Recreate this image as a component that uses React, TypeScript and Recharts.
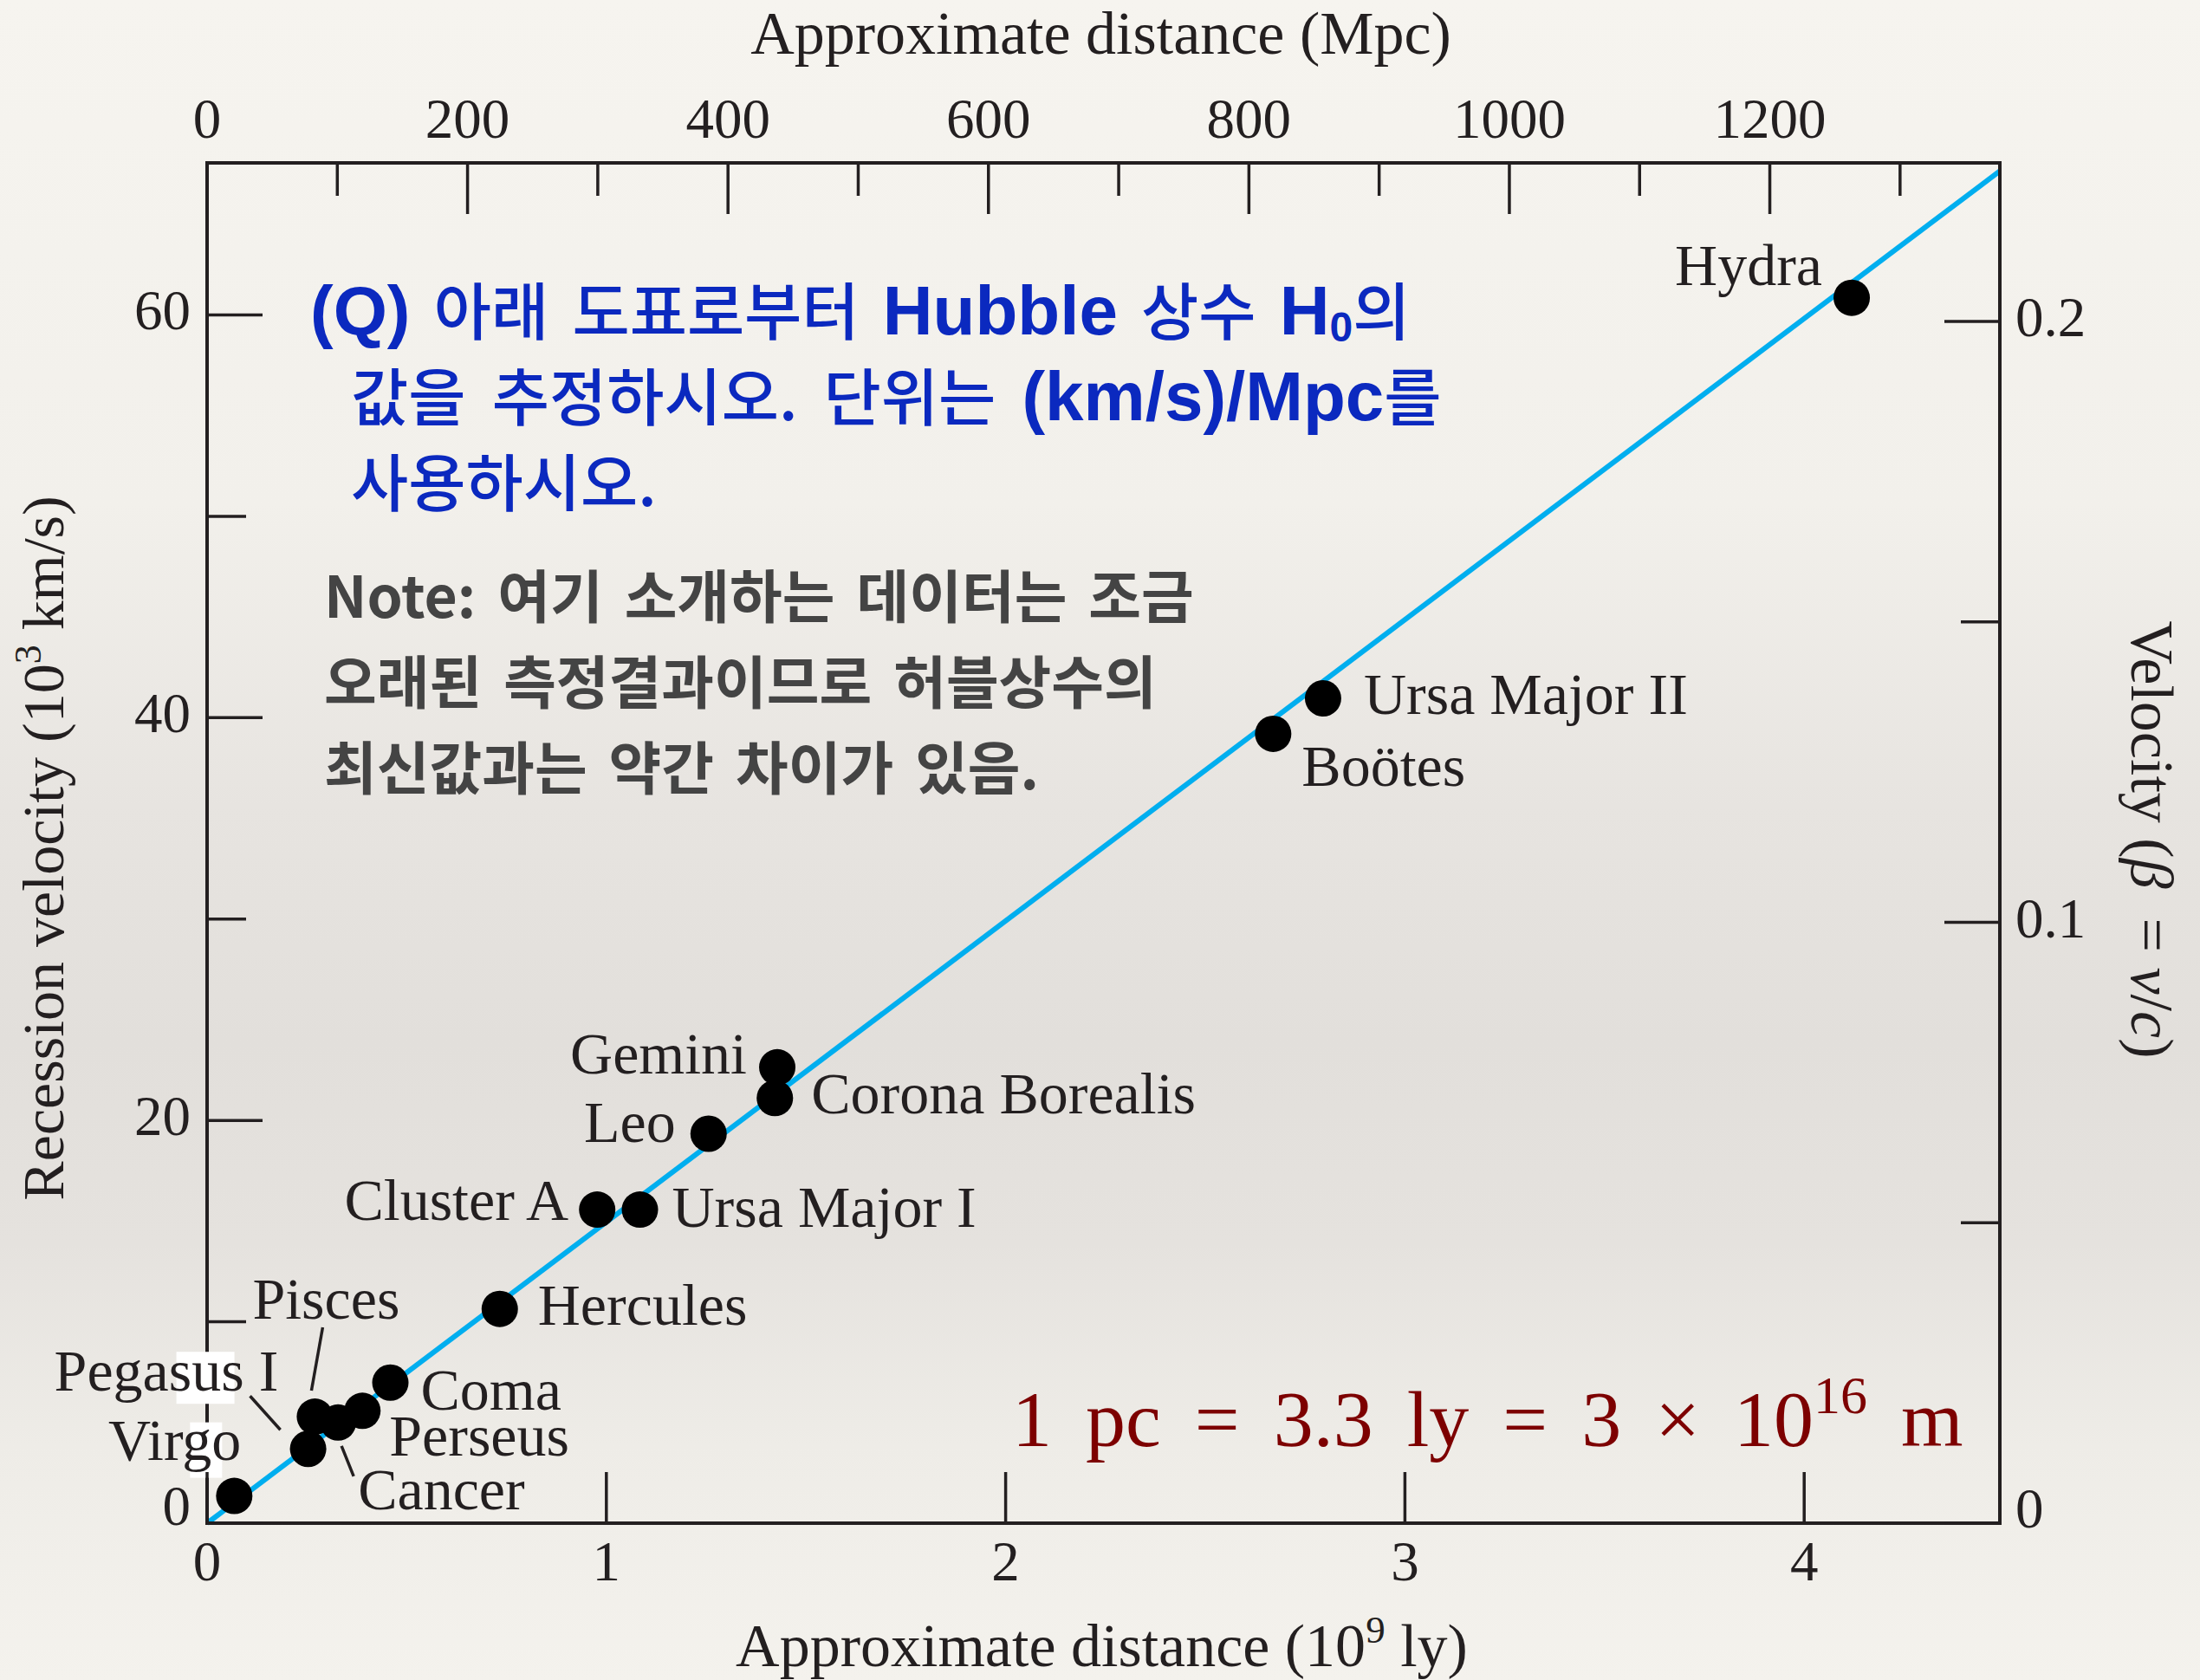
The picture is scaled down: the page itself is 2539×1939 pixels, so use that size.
import React from "react";
import { ComposedChart, Line, Scatter, XAxis, YAxis } from "recharts";

// galaxy clusters: distance in 10^9 ly, recession velocity in 10^3 km/s
const clusterNames = [
  "Virgo",
  "Pegasus I",
  "Pisces",
  "Cancer",
  "Perseus",
  "Coma",
  "Hercules",
  "Cluster A",
  "Ursa Major I",
  "Leo",
  "Corona Borealis",
  "Gemini",
  "Boötes",
  "Ursa Major II",
  "Hydra",
];
const distanceGly = [0.068, 0.253, 0.27, 0.328, 0.389, 0.459, 0.733, 0.977, 1.084, 1.256, 1.422, 1.428, 2.67, 2.795, 4.119];
const velocityKms = [1.35, 3.69, 5.29, 5.0, 5.58, 6.98, 10.64, 15.57, 15.57, 19.34, 21.11, 22.64, 39.2, 40.96, 60.85];

// straight-line fit across the panel
const fitDistance = [0, 4.49];
const fitVelocity = [0, 67.15];

const glyTicks = [0, 1, 2, 3, 4];
const mpcTicks = [0, 100, 200, 300, 400, 500, 600, 700, 800, 900, 1000, 1100, 1200, 1300];
const velocityTicks = [0, 10, 20, 30, 40, 50, 60];
const betaTicks = [0, 0.05, 0.1, 0.15, 0.2];

const glyDomain = [0, 4.49];
const velocityDomain = [0, 67.55];
const betaDomain = [0, 0.2264];

// 1 pc = 3.2616 ly, so 1 Mpc = 3.2616e-3 Gly
const LY_PER_PC = 3.2616;

const clusters = clusterNames.map((name, i) => ({ name, d: distanceGly[i], v: velocityKms[i] }));
const fitLine = fitDistance.map((d, i) => ({ d, v: fitVelocity[i] }));
// the top scale shares the distance axis; its ticks sit at whole hundreds of Mpc
const mpcTicksInGly = mpcTicks.map((m) => (m * LY_PER_PC) / 1000);

const W = 2539;
const H = 1939;
const PLOT = { left: 239, right: 2308, top: 188, bottom: 1758 };

const INK = "#231f20";
const SERIF = "'Liberation Serif', 'Times New Roman', serif";
const SANS = "'Liberation Sans', Arial, sans-serif";
const KR = "'Noto Sans CJK KR', sans-serif";
const QUESTION_BLUE = "#0b29bf";
const NOTE_GREY = "#444444";
const UNIT_RED = "#7d0000";

// where each cluster name sits relative to its dot
type Tag = {
  anchor: "start" | "end";
  dx: number;
  dy: number;
  leader?: [number, number, number, number];
  mask?: [number, number, number, number];
};
const tagLayout: Record<string, Tag> = {
  Virgo: { anchor: "end", dx: 8, dy: -42, mask: [-59, -43, 37, 64] },
  "Pegasus I": { anchor: "start", dx: -293, dy: -67, mask: [141, -45, 67, 60], leader: [-67, -61, -32, -22] },
  Pisces: { anchor: "start", dx: -72, dy: -113, leader: [9, -103, -4, -30] },
  Cancer: { anchor: "start", dx: 23, dy: 100, leader: [18, 62, 4, 27] },
  Perseus: { anchor: "start", dx: 31, dy: 52 },
  Coma: { anchor: "start", dx: 35, dy: 31 },
  Hercules: { anchor: "start", dx: 44, dy: 18 },
  "Cluster A": { anchor: "end", dx: -33, dy: 12 },
  "Ursa Major I": { anchor: "start", dx: 37, dy: 20 },
  Leo: { anchor: "end", dx: -38, dy: 10 },
  "Corona Borealis": { anchor: "start", dx: 42, dy: 18 },
  Gemini: { anchor: "end", dx: -35, dy: 7 },
  "Boötes": { anchor: "start", dx: 33, dy: 60 },
  "Ursa Major II": { anchor: "start", dx: 47, dy: 18 },
  Hydra: { anchor: "end", dx: -34, dy: -15 },
};

const axisLine = { stroke: INK, strokeWidth: 4, strokeLinecap: "square" as const };
const tickText = { fontFamily: SERIF, fontSize: 65, fill: INK };

function BottomTick({ x, y, payload }: any) {
  return (
    <g>
      <line x1={x} y1={y} x2={x} y2={y - 59} stroke={INK} strokeWidth={3.5} />
      <text x={x} y={y + 66} textAnchor="middle" {...tickText}>
        {payload.value}
      </text>
    </g>
  );
}

function TopTick({ x, y, payload }: any) {
  const mpc = Math.round((payload.value * 1000) / LY_PER_PC);
  const major = mpc % 200 === 0;
  return (
    <g>
      <line x1={x} y1={y} x2={x} y2={y + (major ? 59 : 38)} stroke={INK} strokeWidth={3.5} />
      {major && (
        <text x={x} y={y - 29} textAnchor="middle" {...tickText}>
          {mpc}
        </text>
      )}
    </g>
  );
}

function LeftTick({ x, y, payload }: any) {
  const major = payload.value % 20 === 0;
  return (
    <g>
      <line x1={x} y1={y} x2={x + (major ? 64 : 45)} y2={y} stroke={INK} strokeWidth={3.5} />
      {major && (
        <text x={x - 19} y={payload.value === 0 ? y + 2 : y + 17} textAnchor="end" {...tickText}>
          {payload.value}
        </text>
      )}
    </g>
  );
}

function RightTick({ x, y, payload }: any) {
  const v = payload.value;
  const major = Math.abs(v * 10 - Math.round(v * 10)) < 1e-9;
  return (
    <g>
      <line x1={x} y1={y} x2={x - (major ? 64 : 45)} y2={y} stroke={INK} strokeWidth={3.5} />
      {major && (
        <text x={x + 18} y={v === 0 ? y + 5 : y + 17} textAnchor="start" {...tickText}>
          {v === 0 ? "0" : v.toFixed(1)}
        </text>
      )}
    </g>
  );
}

const titleText = { fontFamily: SERIF, fontSize: 70, fill: INK };

function TopTitle({ viewBox }: any) {
  const vb = viewBox ?? { x: PLOT.left, y: 0, width: PLOT.right - PLOT.left, height: PLOT.top };
  return (
    <text x={vb.x + vb.width / 2 - 3} y={vb.y + 62} textAnchor="middle" {...titleText}>
      Approximate distance (Mpc)
    </text>
  );
}

function BottomTitle({ viewBox }: any) {
  const vb = viewBox ?? { x: PLOT.left, y: PLOT.bottom, width: PLOT.right - PLOT.left, height: H - PLOT.bottom };
  return (
    <text x={vb.x + vb.width / 2 - 2} y={vb.y + 165} textAnchor="middle" {...titleText}>
      Approximate distance (10
      <tspan dy={-27} fontSize={45}>9</tspan>
      <tspan dy={27}> ly)</tspan>
    </text>
  );
}

function LeftTitle({ viewBox }: any) {
  const vb = viewBox ?? { x: 0, y: PLOT.top, width: PLOT.left, height: PLOT.bottom - PLOT.top };
  const cx = vb.x + 73;
  const cy = vb.y + vb.height / 2 + 6;
  return (
    <text transform={`translate(${cx},${cy}) rotate(-90)`} textAnchor="middle" {...titleText} fontSize={68}>
      Recession velocity (10
      <tspan dy={-26} fontSize={44}>3</tspan>
      <tspan dy={26}> km/s)</tspan>
    </text>
  );
}

function RightTitle({ viewBox }: any) {
  const vb = viewBox ?? { x: PLOT.right, y: PLOT.top, width: W - PLOT.right, height: PLOT.bottom - PLOT.top };
  const cx = vb.x + 152;
  const cy = vb.y + vb.height / 2 - 4;
  return (
    <text transform={`translate(${cx},${cy}) rotate(90)`} textAnchor="middle" {...titleText}>
      {"Velocity ("}
      <tspan fontStyle="italic">β</tspan>
      <tspan dx={34}>{"= "}</tspan>
      <tspan fontStyle="italic">v</tspan>
      <tspan>/</tspan>
      <tspan fontStyle="italic">c</tspan>
      <tspan>)</tspan>
    </text>
  );
}

function ClusterMark(props: any) {
  const { cx, cy, payload } = props;
  const tag = tagLayout[payload.name];
  const tx = cx + tag.dx;
  const ty = cy + tag.dy;
  return (
    <g>
      {tag.mask && (
        <rect x={tx + tag.mask[0]} y={ty + tag.mask[1]} width={tag.mask[2]} height={tag.mask[3]} fill="#ffffff" />
      )}
      {tag.leader && (
        <line
          x1={cx + tag.leader[0]}
          y1={cy + tag.leader[1]}
          x2={cx + tag.leader[2]}
          y2={cy + tag.leader[3]}
          stroke={INK}
          strokeWidth={3.5}
        />
      )}
      <circle cx={cx} cy={cy} r={21} fill="#000000" />
      <text x={tx} y={ty} textAnchor={tag.anchor} fontFamily={SERIF} fontSize={68} fill={INK}>
        {payload.name}
      </text>
    </g>
  );
}

const latinBold = { fontFamily: SANS, fontWeight: 700, fontSize: 80 };

function Annotations() {
  return (
    <svg width={W} height={H} style={{ position: "absolute", left: 0, top: 0, pointerEvents: "none" }}>
      <g fill={QUESTION_BLUE} fontFamily={KR} fontWeight={500} fontSize={72} wordSpacing={11}>
        <text x={358} y={386}>
          <tspan {...latinBold}>{"(Q)"}</tspan>
          <tspan>{" 아래 도표로부터 "}</tspan>
          <tspan {...latinBold}>{"Hubble"}</tspan>
          <tspan>{" 상수 "}</tspan>
          <tspan {...latinBold}>{"H"}</tspan>
          <tspan {...latinBold} fontSize={48} dy={8}>{"0"}</tspan>
          <tspan dy={-8}>{"의"}</tspan>
        </text>
        <text x={405} y={485} wordSpacing={14}>
          <tspan>{"값을 추정하시오. 단위는 "}</tspan>
          <tspan {...latinBold}>{"(km/s)/Mpc"}</tspan>
          <tspan>{"를"}</tspan>
        </text>
        <text x={405} y={584}>
          {"사용하시오."}
        </text>
      </g>
      <g fill={NOTE_GREY} fontFamily={KR} fontWeight={700} fontSize={66} wordSpacing={10}>
        <text x={374} y={713}>{"Note: 여기 소개하는 데이터는 조금"}</text>
        <text x={374} y={812}>{"오래된 측정결과이므로 허블상수의"}</text>
        <text x={374} y={911}>{"최신값과는 약간 차이가 있음."}</text>
      </g>
      <text x={1168} y={1669} fontFamily={SERIF} fontSize={92} fill={UNIT_RED} wordSpacing={16}>
        {"1 pc = 3.3 ly = 3 × 10"}
        <tspan dy={-38} fontSize={62}>{"16"}</tspan>
        <tspan dy={38}>{" m"}</tspan>
      </text>
    </svg>
  );
}

export default function App() {
  return (
    <div
      style={{
        position: "absolute",
        left: 0,
        top: 0,
        width: W,
        height: H,
        overflow: "hidden",
        background:
          "linear-gradient(180deg, #f6f4ef 0%, #f2f0eb 30%, #e7e4e0 48%, #e2dfdb 62%, #e5e2de 74%, #eeece7 86%, #f4f2ed 100%)",
      }}
    >
      <ComposedChart width={W} height={H} data={clusters} margin={{ top: 0, right: 0, bottom: 0, left: 0 }}>
        <XAxis
          xAxisId="gly"
          type="number"
          dataKey="d"
          orientation="bottom"
          domain={glyDomain}
          ticks={glyTicks}
          interval={0}
          height={H - PLOT.bottom}
          tickSize={0}
          tickMargin={0}
          tickLine={false}
          axisLine={axisLine}
          tick={<BottomTick />}
          label={<BottomTitle />}
        />
        <XAxis
          xAxisId="mpc"
          type="number"
          dataKey="d"
          orientation="top"
          domain={glyDomain}
          ticks={mpcTicksInGly}
          interval={0}
          height={PLOT.top}
          tickSize={0}
          tickMargin={0}
          tickLine={false}
          axisLine={axisLine}
          tick={<TopTick />}
          label={<TopTitle />}
        />
        <YAxis
          yAxisId="v"
          type="number"
          dataKey="v"
          orientation="left"
          domain={velocityDomain}
          ticks={velocityTicks}
          interval={0}
          width={PLOT.left}
          tickSize={0}
          tickMargin={0}
          tickLine={false}
          axisLine={axisLine}
          tick={<LeftTick />}
          label={<LeftTitle />}
        />
        <YAxis
          yAxisId="beta"
          type="number"
          orientation="right"
          domain={betaDomain}
          allowDataOverflow
          ticks={betaTicks}
          interval={0}
          width={W - PLOT.right}
          tickSize={0}
          tickMargin={0}
          tickLine={false}
          axisLine={axisLine}
          tick={<RightTick />}
          label={<RightTitle />}
        />
        <Line
          xAxisId="gly"
          yAxisId="v"
          data={fitLine}
          dataKey="v"
          type="linear"
          stroke="#00aeef"
          strokeWidth={6}
          dot={false}
          activeDot={false}
          isAnimationActive={false}
        />
        <Scatter
          xAxisId="gly"
          yAxisId="v"
          data={clusters}
          dataKey="v"
          shape={(p: any) => <ClusterMark {...p} />}
          isAnimationActive={false}
        />
      </ComposedChart>
      <Annotations />
    </div>
  );
}
